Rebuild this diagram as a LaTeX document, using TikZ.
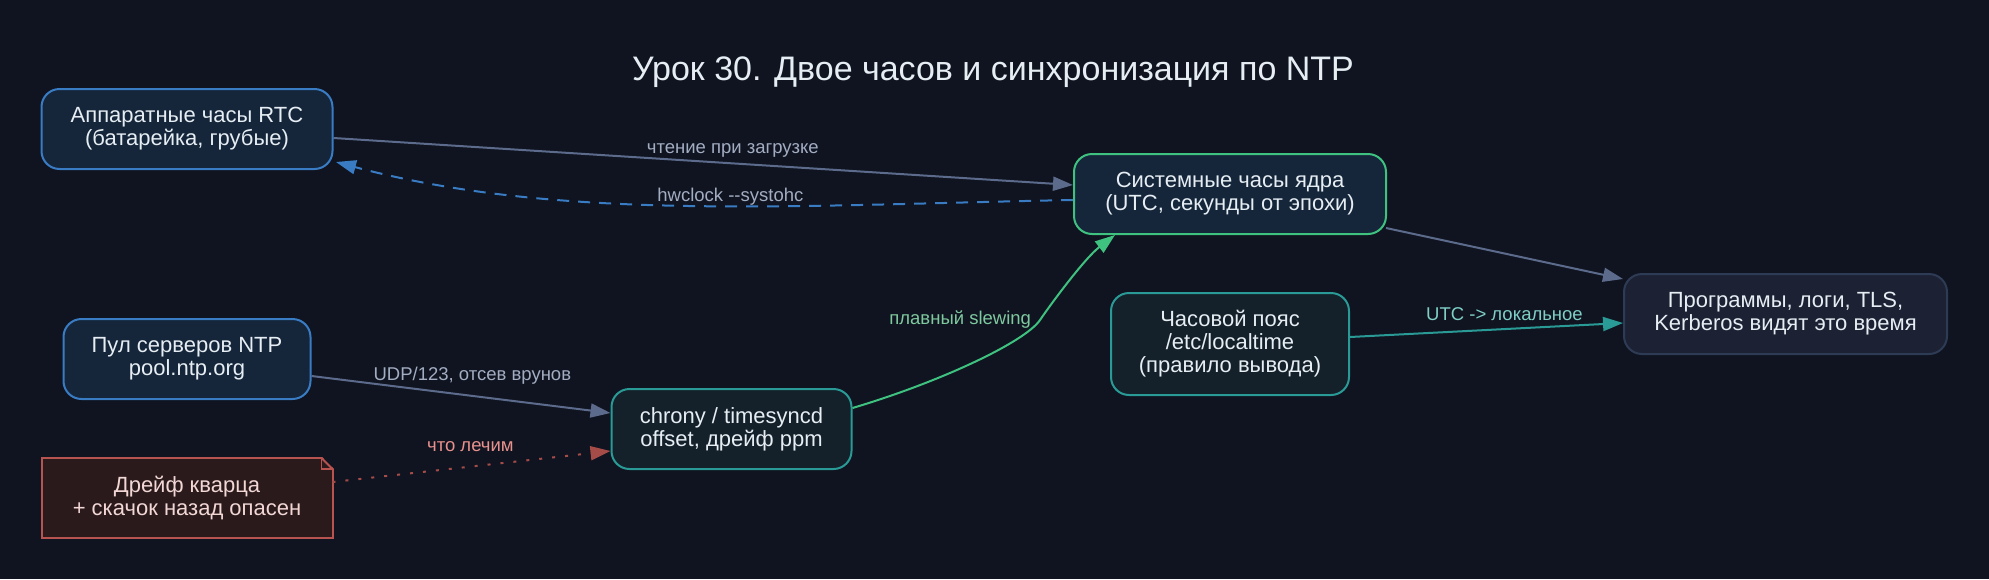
\documentclass[tikz,border=0pt]{standalone}
\usepackage{fontspec}
\newfontfamily\ntpfont{Liberation Sans}
\usetikzlibrary{arrows.meta,positioning}
\definecolor{NtpBg}{HTML}{0F1420}
\definecolor{NtpNavy}{HTML}{15263B}
\definecolor{NtpBlue}{HTML}{3A7CC4}
\definecolor{NtpGreen}{HTML}{3FC27F}
\definecolor{NtpTeal}{HTML}{2A9A96}
\definecolor{NtpDark}{HTML}{14212A}
\definecolor{NtpRed}{HTML}{B85450}
\definecolor{NtpWine}{HTML}{2A1A1C}
\definecolor{NtpSlate}{HTML}{1C2234}
\definecolor{NtpEdge}{HTML}{2E3B55}
\definecolor{NtpGray}{HTML}{5C6B8C}
\definecolor{NtpText}{HTML}{E6EDF3}
\definecolor{NtpLabel}{HTML}{A3ADC2}
\definecolor{NtpPink}{HTML}{F2D7D5}
\definecolor{NtpMint}{HTML}{7FC99E}
\definecolor{NtpAqua}{HTML}{7FCFC7}
\definecolor{NtpRose}{HTML}{E8918D}
\tikzset{
  clockbox/.style={rectangle,rounded corners=18pt,line width=2pt,minimum height=80pt,inner sep=0pt,align=center,text=NtpText,font=\ntpfont\fontsize{22}{23}\selectfont},
  hwbox/.style={clockbox,draw=NtpBlue,fill=NtpNavy},
  sysbox/.style={clockbox,draw=NtpGreen,fill=NtpNavy},
  tealbox/.style={clockbox,draw=NtpTeal,fill=NtpDark},
  progbox/.style={clockbox,draw=NtpEdge,fill=NtpSlate},
  notebox/.style={clockbox,rounded corners=0pt,outer sep=0pt,draw=NtpRed,fill=NtpWine,text=NtpPink},
  title/.style={font=\ntpfont\fontsize{34}{40}\selectfont,text=NtpText,anchor=base,inner sep=0pt},
  lab/.style={font=\ntpfont\fontsize{18.5}{20}\selectfont,text=NtpLabel,inner sep=0pt,text height=13pt,text depth=4pt},
  labg/.style={lab,text=NtpMint},
  labt/.style={lab,text=NtpAqua},
  labr/.style={lab,text=NtpRose},
  arrow/.style={-{Triangle[length=20pt,width=14pt]},line width=2pt,color=NtpGray},
  arrowb/.style={arrow,color=NtpBlue,dash pattern=on 12pt off 9pt},
  arrowg/.style={arrow,color=NtpGreen},
  arrowt/.style={arrow,color=NtpTeal},
  arrowr/.style={arrow,color=NtpRed!90!black,dash pattern=on 3pt off 10pt},
}
\begin{document}
\begin{tikzpicture}[x=1pt,y=-1pt,on grid]
  \fill[NtpBg] (0,0) rectangle (1989,579);
  \useasboundingbox (0,0) rectangle (1989,579);
  \node[title] (title) at (993,80) {Урок 30. Двое часов и синхронизация по NTP};

  % Clock sources (left column)
  \node[hwbox, minimum width=291pt] (rtc) at (187,129) {Аппаратные часы RTC\\(батарейка, грубые)};
  \node[hwbox, minimum width=247pt, below=230pt of rtc] (pool) {Пул серверов NTP\\pool.ntp.org};
  \node[notebox, minimum width=291pt, below=139pt of pool] (drift) {Дрейф кварца\\+ скачок назад опасен};
  \fill[NtpBg] ([xshift=-11pt,yshift=2pt]drift.north east) -- ([xshift=2pt,yshift=2pt]drift.north east) -- ([xshift=2pt,yshift=-11pt]drift.north east) -- cycle;
  \draw[NtpRed, line width=2pt, line join=round] ([xshift=-11pt]drift.north east) -- ([yshift=-11pt]drift.north east);
  \draw[NtpRed, line width=1.5pt] ([xshift=-11pt]drift.north east) |- ([yshift=-11pt]drift.north east);

  % Daemon, kernel clock, time zone, consumers
  \node[tealbox, minimum width=240pt, below right=70pt and 544.5pt of pool] (chrony) {chrony / timesyncd\\offset, дрейф ppm};
  \node[sysbox, minimum width=312pt, below right=65pt and 1043pt of rtc] (sys) {Системные часы ядра\\(UTC, секунды от эпохи)};
  \node[tealbox, minimum width=238pt, minimum height=102pt, below=150pt of sys] (tz) {Часовой пояс\\/etc/localtime\\(правило вывода)};
  \node[progbox, minimum width=323pt, above right=30pt and 555.5pt of tz] (prog) {Программы, логи, TLS,\\Kerberos видят это время};

  % Arrows
  \draw[arrow] ([yshift=-9pt]rtc.east) -- node[lab, pos=0.54, yshift=14.5pt] {чтение при загрузке} ([yshift=9pt]sys.west);
  \draw[arrowb] ([yshift=-6pt]sys.west) .. controls (800,205) and (560,222) .. node[lab, pos=0.44, yshift=9pt] {hwclock --systohc} ([xshift=2.5pt,yshift=-33pt]rtc.east);
  \draw[arrow] ([yshift=-17pt]pool.east) -- node[lab, pos=0.538, yshift=20pt] {UDP/123, отсев врунов} ([yshift=16pt]chrony.west);
  \draw[arrowr] ([yshift=16pt]drift.east) -- node[labr, pos=0.496, yshift=20pt] {что лечим} ([yshift=-22pt]chrony.west);
  \draw[arrowg] ([yshift=21pt]chrony.east) .. controls (940,382) and (1025,342) .. (1040,320) node[labg, anchor=east, xshift=-8pt] {плавный slewing} .. controls (1052,302.4) and (1085,258) .. ([xshift=-115pt]sys.south);
  \draw[arrow] ([xshift=-1pt,yshift=-34pt]sys.east) -- ([yshift=35pt]prog.west);
  \draw[arrowt] ([yshift=7pt]tz.east) -- node[labt, pos=0.566, yshift=13pt] {UTC -> локальное} ([yshift=-9pt]prog.west);

\end{tikzpicture}
\end{document}
